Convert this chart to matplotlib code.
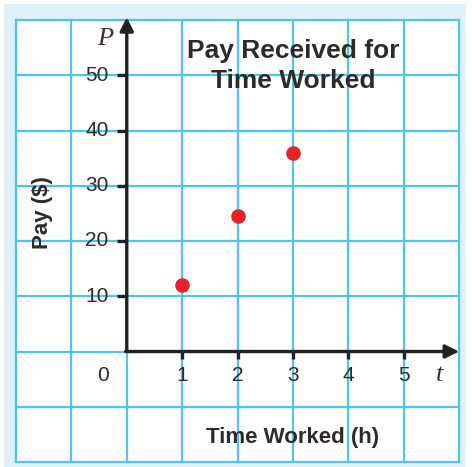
import matplotlib
matplotlib.use("Agg")
import matplotlib.pyplot as plt

# Data
hours = [1, 2, 3]
pay = [12, 24.5, 36]
x_ticks = [1, 2, 3, 4, 5]
y_ticks = [10, 20, 30, 40, 50]
title_lines = ["Pay Received for", "Time Worked"]
x_label = "Time Worked (h)"
y_label = "Pay ($)"

GRID = "#4cc6f0"
TEXT = "#2e2a2a"
SANS = ["Liberation Sans", "DejaVu Sans"]
SERIF = ["Liberation Serif", "DejaVu Serif"]

fig = plt.figure(figsize=(4.72, 4.67), dpi=100, facecolor="white")
bg = fig.add_axes([4 / 472, 0, 462 / 472, 463 / 467], zorder=-10)
bg.set_facecolor("#e0f0fa")
bg.set_xticks([])
bg.set_yticks([])
for s in bg.spines.values():
    s.set_visible(False)

ax = fig.add_axes([16 / 472, 5 / 467, 443 / 472, 442 / 467], zorder=1)
ax.set_xlim(-2, 6)
ax.set_ylim(-20, 60)
ax.set_facecolor("white")
for s in ax.spines.values():
    s.set_visible(False)
ax.set_xticks([])
ax.set_yticks([])

# grid
for gx in range(-2, 7):
    ax.plot([gx, gx], [-20, 60], color=GRID, lw=1.6, clip_on=False, zorder=1)
for gy in range(-20, 61, 10):
    ax.plot([-2, 6], [gy, gy], color=GRID, lw=1.6, clip_on=False, zorder=1)

# axes with arrows
ax.annotate("", xy=(0, 60.5), xytext=(0, 0),
            arrowprops=dict(arrowstyle="-|>", lw=2.4, color="#222222",
                            mutation_scale=20, shrinkA=0, shrinkB=0),
            zorder=3, annotation_clip=False)
ax.annotate("", xy=(6, 0), xytext=(-0.02, 0),
            arrowprops=dict(arrowstyle="-|>", lw=2.4, color="#222222",
                            mutation_scale=20, shrinkA=0, shrinkB=0),
            zorder=3, annotation_clip=False)

# tick marks and labels
for yt in y_ticks:
    ax.plot([-0.18, 0], [yt, yt], color="#222222", lw=2.4, zorder=3,
            solid_capstyle="butt")
    ax.text(-0.33, yt, str(yt), ha="right", va="center", fontsize=15,
            family=SANS, color=TEXT)
for xt in x_ticks:
    ax.plot([xt, xt], [0, -1.4], color="#222222", lw=2.4, zorder=3,
            solid_capstyle="butt")
    ax.text(xt, -5.3, str(xt), ha="center", va="baseline", fontsize=15,
            family=SANS, color=TEXT)
ax.text(-0.42, -5.3, "0", ha="center", va="baseline", fontsize=15,
        family=SANS, color=TEXT)

# axis variable letters
ax.text(-0.39, 55.5, "P", ha="center", va="baseline", fontsize=19,
        family=SERIF, style="italic", color="#3c3028")
ax.text(5.64, -5.3, "t", ha="center", va="baseline", fontsize=19,
        family=SERIF, style="italic", color="#3c3028")

# title and labels
ax.text(3.0, 53.1, title_lines[0], ha="center", va="baseline", fontsize=19,
        family=SANS, fontweight="bold", color=TEXT)
ax.text(3.0, 47.7, title_lines[1], ha="center", va="baseline", fontsize=19,
        family=SANS, fontweight="bold", color=TEXT)
ax.text(3.0, -16.6, x_label, ha="center", va="baseline", fontsize=16,
        family=SANS, fontweight="bold", color=TEXT)
ax.text(-1.53, 25.2, y_label, ha="center", va="center", fontsize=16,
        family=SANS, fontweight="bold", color=TEXT, rotation=90)

# data points
ax.plot(hours, pay, "o", color="#e8202a", markersize=10.5, markeredgewidth=0,
        zorder=4)

fig.savefig("out.png", dpi=100, facecolor="white")
